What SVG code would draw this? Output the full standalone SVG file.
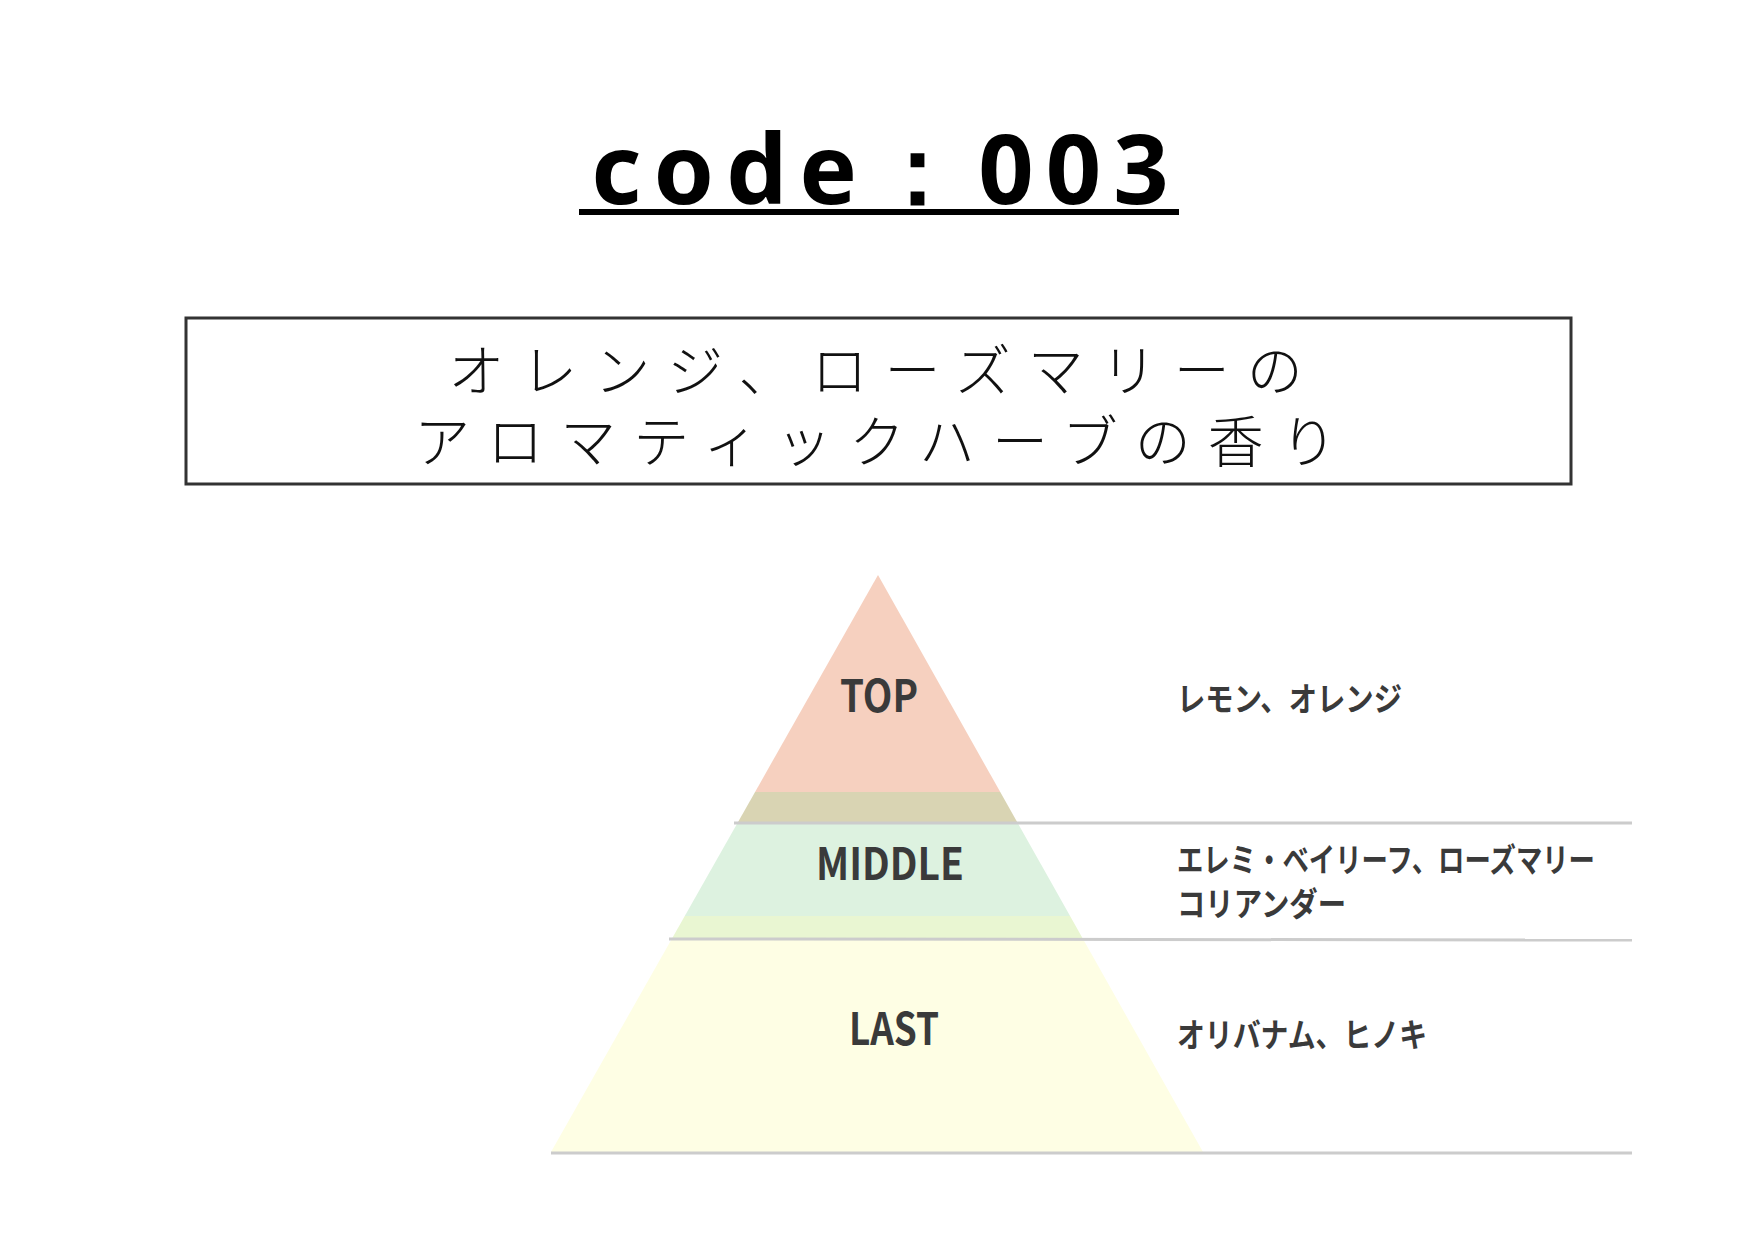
<svg xmlns="http://www.w3.org/2000/svg" width="1755" height="1240" viewBox="0 0 1755 1240">
<style>
.jp{font-family:"Noto Sans CJK JP",sans-serif;font-weight:300;font-size:56px;fill:#111;letter-spacing:17px}
.lbl{font-family:"Noto Sans CJK JP","Noto Sans",sans-serif;font-weight:700;font-size:44px;fill:#3a3a3a}
.note{font-family:"Noto Sans CJK JP",sans-serif;font-weight:700;font-size:33px;fill:#3a3a3a}
.sep{stroke:#cccccc;stroke-width:3}
</style>
<defs><clipPath id="tri"><polygon points="878,575 1203,1152 551,1152"/></clipPath></defs>
<rect width="1755" height="1240" fill="#fff"/>
<g id="title">
<text x="886" y="204" text-anchor="middle" font-family="Noto Sans, sans-serif" font-weight="700" font-size="97" letter-spacing="12" fill="#000">code：003</text>
<rect x="579" y="209" width="600" height="6" fill="#000"/>
</g>
<g id="desc">
<rect x="186" y="318" width="1385" height="166" fill="none" stroke="#333" stroke-width="3"/>
<text class="jp" x="884" y="391" text-anchor="middle">オレンジ、ローズマリーの</text>
<text class="jp" x="884" y="462" text-anchor="middle">アロマティックハーブの香り</text>
</g>
<g id="pyramid" clip-path="url(#tri)">
<rect x="500" y="570" width="800" height="222" fill="#F6D0BF"/>
<rect x="500" y="792" width="800" height="30" fill="#D9D4B3"/>
<rect x="500" y="822" width="800" height="94" fill="#DDF2E0"/>
<rect x="500" y="916" width="800" height="23" fill="#E9F6D2"/>
<rect x="500" y="939" width="800" height="213" fill="#FEFEE4"/>
</g>
<g id="connectors">
<line class="sep" x1="734" y1="823" x2="1632" y2="823"/>
<line class="sep" x1="669" y1="939" x2="1632" y2="940"/>
<line class="sep" x1="551" y1="1153" x2="1632" y2="1153"/>
</g>
<g id="top"><text class="lbl" x="840" y="712" textLength="78" lengthAdjust="spacingAndGlyphs">TOP</text>
<text class="note" x="1177" y="711" textLength="225" lengthAdjust="spacingAndGlyphs">レモン、オレンジ</text></g>
<g id="middle"><text class="lbl" x="816" y="880" textLength="148" lengthAdjust="spacingAndGlyphs">MIDDLE</text>
<text class="note" x="1177" y="872" textLength="418" lengthAdjust="spacingAndGlyphs">エレミ・ベイリーフ、ローズマリー</text>
<text class="note" x="1177" y="916" textLength="169" lengthAdjust="spacingAndGlyphs">コリアンダー</text></g>
<g id="last"><text class="lbl" x="849" y="1045" textLength="90" lengthAdjust="spacingAndGlyphs">LAST</text>
<text class="note" x="1177" y="1047" textLength="250" lengthAdjust="spacingAndGlyphs">オリバナム、ヒノキ</text></g>
</svg>
